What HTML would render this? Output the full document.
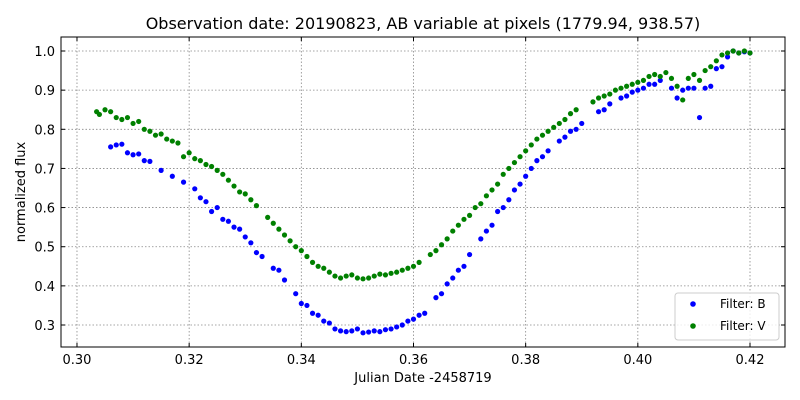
<!DOCTYPE html>
<html><head><meta charset="utf-8"><style>
html,body{margin:0;padding:0;background:#fff;}
svg{display:block;font-family:"DejaVu Sans","Liberation Sans",sans-serif;}
</style></head><body>
<svg id="chart" width="800" height="400" viewBox="0 0 800 400" xmlns="http://www.w3.org/2000/svg">
<text x="423" y="29" font-size="16" text-anchor="middle" fill="#000">Observation date: 20190823, AB variable at pixels (1779.94, 938.57)</text>
<g id="grid"></g>
<g id="ticks"></g>
<g id="marks"></g>
<rect x="61" y="37" width="724" height="310" fill="none" stroke="#000" stroke-width="1"/>
<text x="423" y="382" font-size="13" text-anchor="middle">Julian Date -2458719</text>
<text transform="translate(25,192) rotate(-90)" font-size="13" text-anchor="middle">normalized flux</text>
<g>
<rect x="675" y="293" width="104" height="47" rx="3" fill="#fff" fill-opacity="0.8" stroke="#ccc"/>
<circle cx="693" cy="304" r="2.8" fill="#0000ff"/>
<text x="720" y="308" font-size="12">Filter: B</text>
<circle cx="693" cy="326" r="2.8" fill="#008000"/>
<text x="720" y="330" font-size="12">Filter: V</text>
</g>
</svg>
<script>
const xTicks=[0.30,0.32,0.34,0.36,0.38,0.40,0.42];
const yTicks=[0.3,0.4,0.5,0.6,0.7,0.8,0.9,1.0];
const bX=[0.306,0.307,0.308,0.309,0.310,0.311,0.312,0.313,0.315,0.317,0.319,0.321,0.322,0.323,0.324,0.325,0.326,0.327,0.328,0.329,0.330,0.331,0.332,0.333,0.335,0.336,0.337,0.339,0.340,0.341,0.342,0.343,0.344,0.345,0.346,0.347,0.348,0.349,0.350,0.351,0.352,0.353,0.354,0.355,0.356,0.357,0.358,0.359,0.360,0.361,0.362,0.364,0.365,0.366,0.367,0.368,0.369,0.370,0.372,0.373,0.374,0.375,0.376,0.377,0.378,0.379,0.380,0.381,0.382,0.383,0.384,0.386,0.387,0.388,0.389,0.390,0.393,0.394,0.395,0.397,0.398,0.399,0.400,0.401,0.402,0.403,0.404,0.406,0.407,0.408,0.409,0.410,0.411,0.412,0.413,0.414,0.415,0.416,0.417,0.418,0.419,0.420];
const bY=[0.755,0.76,0.762,0.74,0.735,0.737,0.72,0.718,0.695,0.68,0.665,0.648,0.625,0.615,0.59,0.6,0.57,0.565,0.55,0.545,0.525,0.51,0.485,0.475,0.445,0.44,0.415,0.38,0.355,0.35,0.33,0.325,0.31,0.305,0.29,0.285,0.283,0.285,0.29,0.28,0.282,0.285,0.283,0.288,0.29,0.295,0.3,0.31,0.315,0.325,0.33,0.37,0.38,0.405,0.42,0.44,0.45,0.48,0.52,0.54,0.555,0.59,0.6,0.62,0.645,0.66,0.68,0.7,0.72,0.73,0.745,0.77,0.78,0.795,0.8,0.815,0.845,0.85,0.865,0.88,0.885,0.895,0.9,0.905,0.915,0.915,0.925,0.905,0.88,0.9,0.905,0.905,0.83,0.905,0.91,0.955,0.96,0.985,1.0,0.995,0.998,0.995];
const vX=[0.3035,0.304,0.305,0.306,0.307,0.308,0.309,0.310,0.311,0.312,0.313,0.314,0.315,0.316,0.317,0.318,0.319,0.320,0.321,0.322,0.323,0.324,0.325,0.326,0.327,0.328,0.329,0.330,0.331,0.332,0.334,0.335,0.336,0.337,0.338,0.339,0.340,0.341,0.342,0.343,0.344,0.345,0.346,0.347,0.348,0.349,0.350,0.351,0.352,0.353,0.354,0.355,0.356,0.357,0.358,0.359,0.360,0.361,0.363,0.364,0.365,0.366,0.367,0.368,0.369,0.370,0.371,0.372,0.373,0.374,0.375,0.376,0.377,0.378,0.379,0.380,0.381,0.382,0.383,0.384,0.385,0.386,0.387,0.388,0.389,0.392,0.393,0.394,0.395,0.396,0.397,0.398,0.399,0.400,0.401,0.402,0.403,0.404,0.405,0.406,0.407,0.408,0.409,0.410,0.411,0.412,0.413,0.414,0.415,0.416,0.417,0.418,0.419,0.420];
const vY=[0.845,0.838,0.85,0.845,0.83,0.825,0.83,0.815,0.82,0.8,0.795,0.785,0.788,0.775,0.77,0.765,0.73,0.74,0.725,0.72,0.71,0.705,0.695,0.685,0.67,0.655,0.64,0.635,0.62,0.605,0.575,0.56,0.545,0.53,0.515,0.5,0.49,0.475,0.46,0.45,0.445,0.435,0.425,0.42,0.425,0.428,0.42,0.418,0.42,0.425,0.43,0.428,0.432,0.435,0.44,0.445,0.45,0.46,0.48,0.49,0.505,0.52,0.54,0.555,0.57,0.58,0.6,0.61,0.63,0.645,0.66,0.685,0.7,0.715,0.73,0.745,0.76,0.775,0.785,0.795,0.805,0.815,0.825,0.84,0.85,0.87,0.88,0.885,0.89,0.9,0.905,0.91,0.915,0.92,0.925,0.935,0.94,0.935,0.945,0.93,0.91,0.875,0.93,0.94,0.925,0.95,0.96,0.975,0.99,0.995,1.0,0.995,1.0,0.995];

const X0=61,X1=785,Y0=347,Y1=37;
const xMin=0.29715,xMax=0.42624,yMin=0.2438,yMax=1.0358;
function sx(v){return X0+(v-xMin)/(xMax-xMin)*(X1-X0);}
function sy(v){return Y0-(v-yMin)/(yMax-yMin)*(Y0-Y1);}
const NS="http://www.w3.org/2000/svg";
function mk(tag,attrs,parent){const e=document.createElementNS(NS,tag);for(const k in attrs)e.setAttribute(k,attrs[k]);parent.appendChild(e);return e;}
const grid=document.getElementById('grid'),ticks=document.getElementById('ticks'),marks=document.getElementById('marks');
xTicks.forEach(t=>{const x=sx(t);
 const g=mk('line',{x1:x,x2:x,y1:Y1,y2:Y0,stroke:'#888','stroke-dasharray':'1.5,2','stroke-width':0.8},grid);
 
 
 mk('line',{x1:x,x2:x,y1:Y0,y2:Y0-4,stroke:'#000'},ticks);
 mk('line',{x1:x,x2:x,y1:Y1,y2:Y1+4,stroke:'#000'},ticks);
 const l=mk('text',{x:x,y:Y0+17,'font-size':13,'text-anchor':'middle'},ticks);
 l.textContent=t.toFixed(2);
 
 
});
yTicks.forEach(t=>{const y=sy(t);
 const g=mk('line',{x1:X0,x2:X1,y1:y,y2:y,stroke:'#888','stroke-dasharray':'1.5,2','stroke-width':0.8},grid);
 
 
 mk('line',{x1:X0,x2:X0+4,y1:y,y2:y,stroke:'#000'},ticks);
 mk('line',{x1:X1,x2:X1-4,y1:y,y2:y,stroke:'#000'},ticks);
 const l=mk('text',{x:X0-6,y:y+5,'font-size':13,'text-anchor':'end'},ticks);
 l.textContent=t.toFixed(1);
 
 
});
bX.forEach((v,i)=>{const c=mk('circle',{cx:sx(v),cy:sy(bY[i]),r:2.6,fill:'#0000ff'},marks);
 
 });
vX.forEach((v,i)=>{const c=mk('circle',{cx:sx(v),cy:sy(vY[i]),r:2.6,fill:'#008000'},marks);
 
 });
</script>
</body></html>
